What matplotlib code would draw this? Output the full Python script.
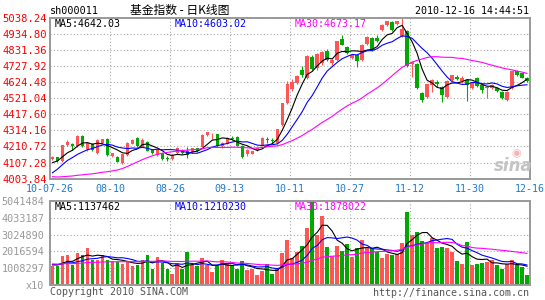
import numpy as np
import pandas as pd
import matplotlib
matplotlib.use('Agg')
import matplotlib.pyplot as plt

# daily K-line data, 2010-07-26 .. 2010-12-16 (96 trading days)
opens = [4130, 4141, 4115, 4218, 4228, 4212, 4280, 4192, 4226, 4168,
         4236, 4257, 4150, 4145, 4103, 4157, 4228, 4263, 4210, 4242,
         4188, 4157, 4167, 4140, 4130, 4168, 4188, 4185, 4177, 4198,
         4210, 4284, 4290, 4291, 4212, 4228, 4266, 4270, 4216, 4160,
         4165, 4189, 4216, 4258, 4252, 4232, 4350, 4490, 4580, 4618,
         4705, 4652, 4785, 4715, 4745, 4826, 4745, 4768, 4900, 4850,
         4780, 4800, 4766, 4870, 4905, 4910, 4960, 4993, 5012, 4998,
         4920, 4955, 4738, 4740, 4552, 4530, 4606, 4628, 4595, 4530,
         4638, 4659, 4631, 4638, 4584, 4653, 4606, 4584, 4584, 4584,
         4563, 4509, 4584, 4696, 4680, 4653]
highs = [4150, 4146, 4222, 4252, 4232, 4282, 4284, 4238, 4230, 4256,
         4262, 4266, 4170, 4150, 4165, 4240, 4256, 4272, 4268, 4248,
         4195, 4196, 4172, 4150, 4162, 4205, 4194, 4210, 4202, 4203,
         4288, 4306, 4298, 4294, 4238, 4270, 4280, 4275, 4220, 4192,
         4185, 4200, 4270, 4272, 4266, 4324, 4492, 4630, 4645, 4668,
         4725, 4800, 4800, 4812, 4825, 4840, 4772, 4890, 4924, 4855,
         4806, 4805, 4870, 4918, 4912, 4925, 4995, 5020, 5020, 5020,
         5040, 4962, 4760, 4745, 4560, 4615, 4642, 4640, 4600, 4635,
         4672, 4672, 4665, 4645, 4620, 4658, 4610, 4600, 4610, 4590,
         4568, 4566, 4698, 4702, 4684, 4658]
lows = [4122, 4110, 4110, 4212, 4190, 4208, 4208, 4180, 4180, 4160,
        4232, 4150, 4144, 4110, 4098, 4152, 4224, 4210, 4205, 4180,
        4162, 4150, 4125, 4118, 4122, 4160, 4165, 4135, 4172, 4176,
        4206, 4280, 4257, 4210, 4200, 4224, 4255, 4212, 4138, 4150,
        4160, 4184, 4212, 4230, 4232, 4228, 4345, 4485, 4565, 4610,
        4660, 4645, 4700, 4705, 4735, 4762, 4735, 4762, 4860, 4805,
        4775, 4722, 4760, 4866, 4822, 4885, 4950, 4985, 4955, 4990,
        4912, 4720, 4660, 4580, 4494, 4525, 4560, 4595, 4494, 4525,
        4630, 4638, 4620, 4503, 4578, 4595, 4555, 4524, 4578, 4560,
        4515, 4505, 4580, 4665, 4650, 4628]
closes = [4145, 4115, 4218, 4240, 4215, 4278, 4214, 4232, 4188, 4250,
          4256, 4156, 4166, 4114, 4160, 4235, 4252, 4214, 4252, 4184,
          4167, 4188, 4128, 4130, 4156, 4198, 4170, 4157, 4198, 4181,
          4285, 4303, 4293, 4214, 4235, 4267, 4262, 4216, 4145, 4188,
          4180, 4198, 4267, 4252, 4246, 4321, 4488, 4612, 4628, 4663,
          4672, 4795, 4706, 4805, 4820, 4768, 4768, 4886, 4864, 4810,
          4800, 4762, 4866, 4915, 4830, 4890, 4990, 5015, 4960, 5015,
          4968, 4725, 4752, 4585, 4510, 4610, 4638, 4612, 4541, 4631,
          4670, 4642, 4653, 4606, 4616, 4599, 4574, 4595, 4606, 4567,
          4520, 4563, 4696, 4670, 4653, 4631]
volumes = [1134000, 1174000, 1773000, 1813000, 1234000, 1933000, 1793000, 2232000, 1514000, 1494000,
           1793000, 1534000, 1454000, 1394000, 1274000, 1474000, 1134000, 1234000, 1494000, 1813000,
           994000, 1694000, 1334000, 994000, 696000, 1334000, 954000, 1993000, 1194000, 1134000,
           1634000, 1234000, 795000, 1134000, 1514000, 1334000, 1134000, 994000, 1474000, 895000,
           994000, 636000, 875000, 1274000, 676000, 994000, 1933000, 2710000, 1633000, 1991000,
           2330000, 3430000, 5040000, 2990000, 4120000, 2270000, 1730000, 2330000, 2070000, 2470000,
           1670000, 2230000, 2670000, 2230000, 2230000, 1990000, 1630000, 1870000, 1830000, 1870000,
           2530000, 4340000, 3010000, 3170000, 2650000, 2550000, 2810000, 2250000, 2310000, 2250000,
           2010000, 1450000, 1270000, 2590000, 1210000, 1270000, 1350000, 1380000, 1480000, 1200000,
           1000000, 1250000, 1520000, 1210000, 1080000, 630000]

# days before the window, only needed so the moving averages start where they do
prev_closes = [4180, 4170, 4160, 4150, 4140, 4130, 4120, 4110, 4100, 4095,
               4060, 4000, 3940, 3880, 3840, 3800, 3790, 3800, 3810, 3815,
               3880, 3930, 3970, 4030, 4075, 4060, 4085, 4110, 4135]
prev_volumes = [1420000, 1380000, 1310000, 1450000, 1290000, 1360000, 1240000, 1180000, 1330000, 1270000,
                1400000, 1350000, 1220000, 1300000, 1260000, 1190000, 1280000, 1240000, 1300000, 1210000,
                1150000, 1230000, 1180000, 1260000, 1250000, 1220000, 1280000, 1270000, 1240000]

date_labels = ['10-07-26', '08-10', '08-26', '09-13', '10-11', '10-27', '11-12', '11-30', '12-16']
price_ticks = [4003.84, 4107.28, 4210.72, 4314.16, 4417.60, 4521.04,
               4624.48, 4727.92, 4831.36, 4934.80, 5038.24]
vol_ticks = [0, 1008297, 2016594, 3024890, 4033187, 5041484]
price_ma_labels = ['MA5:4642.03', 'MA10:4603.02', 'MA30:4673.17']
vol_ma_labels = ['MA5:1137462', 'MA10:1210230', 'MA30:1878022']

RED = '#ff5555'
GREEN = '#00a800'
W, H = 545, 300

n = len(closes)
x = np.arange(n) + 0.5
npre = len(prev_closes)
c_all = pd.Series(prev_closes + closes, dtype=float)
v_all = pd.Series(prev_volumes + volumes, dtype=float)
ma = {k: c_all.rolling(k).mean().values[npre:] for k in (5, 10, 30)}
vma = {k: v_all.rolling(k).mean().values[npre:] for k in (5, 10, 30)}
ma_colors = {5: 'black', 10: '#0000ff', 30: '#ff00ff'}

o = np.array(opens, float)
c = np.array(closes, float)
up = c >= o
colors = np.where(up, RED, GREEN)


def box(x0, y0, x1, y1):
    return [x0 / W, 1 - y1 / H, (x1 - x0) / W, (y1 - y0) / H]


fig = plt.figure(figsize=(W / 100, H / 100), dpi=100)
fig.patch.set_facecolor('white')
ax = fig.add_axes(box(50, 17.7, 529.5, 178.7))
axv = fig.add_axes(box(50, 200.7, 529.5, 285.3))

mono = 'DejaVu Sans Mono'
for a in (ax, axv):
    a.set_xlim(0, n)
    a.set_xticks(range(0, n + 1, 12))
    a.grid(True, color='#aaaaaa', linestyle=(0, (1, 2)), linewidth=0.8)
    a.set_axisbelow(True)
    a.tick_params(length=0)
    for s in a.spines.values():
        s.set_color('#999999')
        s.set_linewidth(1.4)

# price panel
ax.vlines(x, lows, highs, colors=colors, linewidth=0.8)
body = np.maximum(np.abs(c - o), 4)
ax.bar(x, body, bottom=np.minimum(o, c), width=0.7, color=colors, linewidth=0)
for k in (5, 10, 30):
    ax.plot(x, ma[k], color=ma_colors[k], linewidth=0.8)
ax.set_ylim(price_ticks[0], price_ticks[-1])
ax.set_yticks(price_ticks)
ax.set_yticklabels(['%.2f' % t for t in price_ticks], color='#ff0000',
                   fontsize=7.6, family=mono)
ax.tick_params(axis='y', pad=2)
ax.set_xticklabels(date_labels, color='#1e7ac8', fontsize=7.2, family=mono)
ax.tick_params(axis='x', pad=4)

# volume panel
axv.bar(x, volumes, width=0.75, color=colors, linewidth=0)
for k in (5, 10, 30):
    axv.plot(x, vma[k], color=ma_colors[k], linewidth=0.8)
axv.set_ylim(0, vol_ticks[-1])
axv.set_yticks(vol_ticks)
axv.set_yticklabels(['x10'] + [str(t) for t in vol_ticks[1:]], color='#999999',
                    fontsize=7.3, family=mono)
axv.tick_params(axis='y', pad=4)
axv.set_xticklabels([])


def ftext(px_x, px_y, s, **kw):
    fig.text(px_x / W, 1 - px_y / H, s, va='center', **kw)


ftext(50, 11, 'sh000011', fontsize=7.3, family=mono, color='black')
ftext(180, 10.5, '基金指数 - 日K线图', fontsize=8.5, ha='center',
      family=['Noto Sans CJK SC', 'DejaVu Sans'], color='black')
ftext(529, 11, '2010-12-16 14:44:51', fontsize=7.2, family=mono, ha='right', color='black')

for lab, px_x, k in zip(price_ma_labels, (55, 175, 295), (5, 10, 30)):
    ftext(px_x, 24, lab, fontsize=7.2, family=mono, color=ma_colors[k])
for lab, px_x, k in zip(vol_ma_labels, (55, 175, 295), (5, 10, 30)):
    ftext(px_x, 206.5, lab, fontsize=7.2, family=mono, color=ma_colors[k])

ftext(50, 292, 'Copyright 2010 SINA.COM', fontsize=7.2, family=mono, color='#555555')
ftext(529, 292.5, 'http://finance.sina.com.cn', fontsize=7.2, family=mono, ha='right', color='#555555')

# faint sina watermark
ftext(513, 166, 'sina', fontsize=12, style='italic', weight='bold', ha='center', color='#c4c4c4')
ftext(516, 153, '◉', fontsize=8, ha='center', color='#f5b5b5')

fig.savefig('out.png', dpi=100, facecolor='white')
